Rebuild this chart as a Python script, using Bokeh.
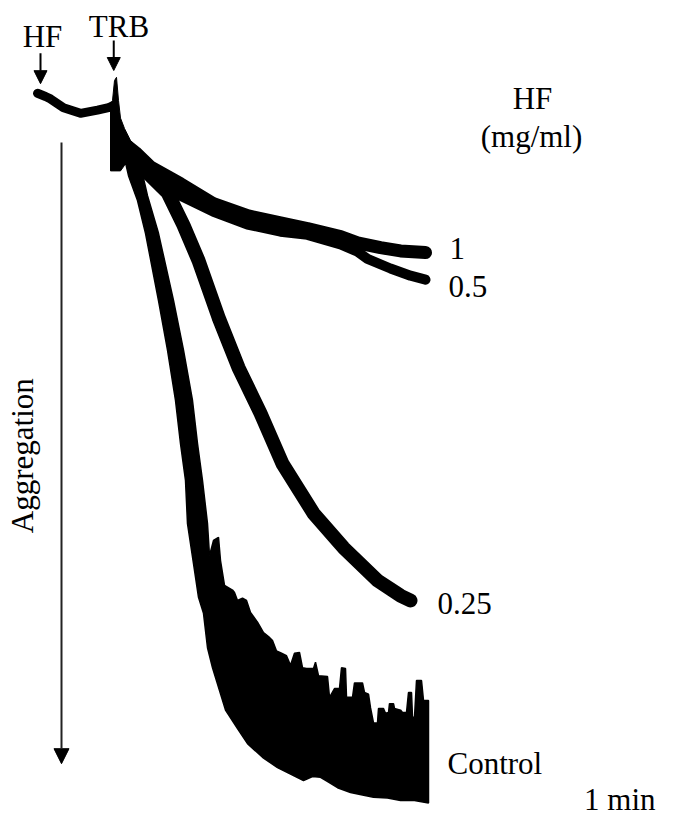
from bokeh.plotting import figure
from bokeh.models import Range1d, Arrow, NormalHead, Label
from bokeh.embed import file_html
from bokeh.resources import INLINE

# time (s) after HF addition ; aggregation (%)
pre_t = [-2.4, 4, 8, 18.4, 32, 45.6, 54.4, 58.4]
pre_agg = [-0.9, -0.5, -0.2, 0.9, 1.6, 1.2, 0.9, 0.6]

# thrombin injection artefact (shared by all traces)
trb_up_t = [56, 57.6, 59.2, 60.8, 62.4, 64, 67.2, 72, 78.4]
trb_up_agg = [0.5, 0, -2.5, -2.9, 0, 2.2, 3.5, 5, 6]
trb_lo_t = [56, 64, 67.2, 72, 78.4]
trb_lo_agg = [8.8, 8.8, 8.1, 7.5, 8.1]

# HF 1 mg/ml
hf1_t = [64, 76, 88, 112, 138.4, 165.6, 192, 213.6, 240, 253.6, 272, 288, 308]
hf1_agg = [5, 6.5, 8.3, 10.4, 12.9, 14.4, 15.3, 16, 17, 17.8, 18.4, 18.8, 19]

# HF 0.5 mg/ml
hf05_t = [64, 76, 88, 112, 138.4, 165.6, 192, 213.6, 240, 253.6, 261.6, 280, 296, 308]
hf05_agg = [5.6, 7.5, 9.4, 11.9, 13.9, 15.5, 16.4, 16.8, 18, 18.9, 19.8, 21, 21.9, 22.4]

# HF 0.25 mg/ml
hf025_t = [64, 76, 88, 101.6, 114.4, 126.4, 142.4, 158.4, 176, 193.6, 218.4, 242.4, 269.6, 288, 296]
hf025_agg = [5.6, 7.8, 9.4, 11.5, 15.6, 20, 27.1, 33.4, 39.1, 45.4, 51.6, 55.9, 60, 61.9, 62.5]

# Control: noisy trace, upper and lower envelopes
ctrl_up_t = [80, 85.6, 94.4, 106.4, 114.4, 121.6, 125.6, 129.6, 133.6, 135.2, 138.4, 142.4,
             144, 147.2, 153.6, 155.2, 157.6, 161.6, 164.8, 168, 173.6, 178.4, 182.4, 185.6,
             188.8, 192.8, 196.8, 200, 203.2, 207.2, 209.6, 212.8, 218.4, 220, 222.4, 229.6,
             231.2, 235.2, 239.2, 240.8, 244, 244.8, 249.6, 251.2, 257.6, 259.2, 262.4, 264,
             266.4, 269.6, 270.4, 274.4, 276, 278.4, 279.2, 282.4, 283.2, 288, 289.6, 292.8,
             294.4, 296.8, 297.6, 299.2, 300.8, 304.8, 306.4, 310.4]
ctrl_up_agg = [8.1, 11.9, 16.6, 25, 31.2, 37.5, 42.9, 47.5, 52.9, 56.9, 55, 54.6,
               57.5, 60.6, 61.2, 61.5, 62.5, 62.2, 62.5, 64, 65.2, 66.5, 67, 67.5,
               68.8, 69.1, 69.4, 70.6, 69.1, 69, 70.9, 71, 71, 70.2, 71.9, 72,
               74.6, 73.5, 73.5, 70.9, 71, 74.6, 74.6, 72.8, 72.8, 74, 74.2, 75.9,
               77.8, 77.8, 76, 76, 76.6, 76.5, 75.4, 75.4, 76, 76.2, 76.5, 76.5,
               74, 74, 77.1, 77.1, 72.5, 72.5, 75, 75]
ctrl_lo_t = [67.2, 70.4, 77.6, 84, 94.4, 101.6, 108, 112, 116, 117.6, 122.4, 126.4, 130.4,
             133.6, 137.6, 148, 157.6, 165.6, 177.6, 189.6, 200, 210.4, 217.6, 224, 230.4,
             237.6, 248, 257.6, 266.4, 277.6, 288, 299.2, 310.4]
ctrl_lo_agg = [7.2, 9.4, 12.5, 16.6, 25, 31.2, 37.5, 42.9, 47.5, 52.9, 57.9, 62.1, 64.1,
               68.4, 70.9, 76.2, 78.5, 80.4, 82.1, 83.4, 84.2, 85, 84.5, 84.6, 85.2,
               85.9, 86.5, 86.8, 87.1, 87.2, 87.5, 87.5, 87.8]

FONT = "Liberation Serif"
FS = "31px"

p = figure(width=658, height=821, output_backend="svg", toolbar_location=None,
           x_axis_type=None, y_axis_type=None,
           x_range=Range1d(-32, 494.4), y_range=Range1d(90.125, -12.5),
           min_border=0, outline_line_color=None, background_fill_color="white")

p.line(pre_t, pre_agg, line_width=9, color="black", line_join="round", line_cap="round")
p.patch(trb_up_t + trb_lo_t[::-1], trb_up_agg + trb_lo_agg[::-1], color="black", line_width=1)
p.patch(ctrl_up_t + ctrl_lo_t[::-1], ctrl_up_agg + ctrl_lo_agg[::-1], color="black", line_width=1.5)
p.line(hf025_t, hf025_agg, line_width=14, color="black", line_join="round", line_cap="round")
p.line(hf05_t, hf05_agg, line_width=10, color="black", line_join="round", line_cap="round")
p.line(hf1_t, hf1_agg, line_width=13, color="black", line_join="round", line_cap="round")

# arrows
p.add_layout(Arrow(x_start=0, y_start=-5.9, x_end=0, y_end=-2.1, line_width=2, line_color="black",
                   end=NormalHead(size=13, fill_color="black", line_color="black")))
p.add_layout(Arrow(x_start=58.6, y_start=-7.5, x_end=58.6, y_end=-3.75, line_width=2, line_color="black",
                   end=NormalHead(size=13, fill_color="black", line_color="black")))
p.add_layout(Arrow(x_start=16.8, y_start=5.25, x_end=16.8, y_end=82.9, line_width=2, line_color="#222222",
                   end=NormalHead(size=15, fill_color="black", line_color="black")))

def lab(x, y, t, align="left", angle=0, baseline="alphabetic"):
    p.add_layout(Label(x=x, y=y, text=t, text_font=FONT, text_font_size=FS, text_color="black",
                       text_align=align, text_baseline=baseline, angle=angle))

lab(1.6, -8.0, "HF", "center")
lab(62.8, -9.2, "TRB", "center")
lab(393.6, -0.2, "HF", "center")
lab(392.8, 4.5, "(mg/ml)", "center")
lab(327.2, 18.5, "1")
lab(326.4, 23.3, "0.5")
lab(317.6, 62.9, "0.25")
lab(325.6, 82.9, "Control")
lab(492.0, 87.4, "1 min", "right")
lab(-14.4, 44.4, "Aggregation", "center", angle=1.5708, baseline="middle")

open("out.html", "w").write(file_html(p, INLINE))
